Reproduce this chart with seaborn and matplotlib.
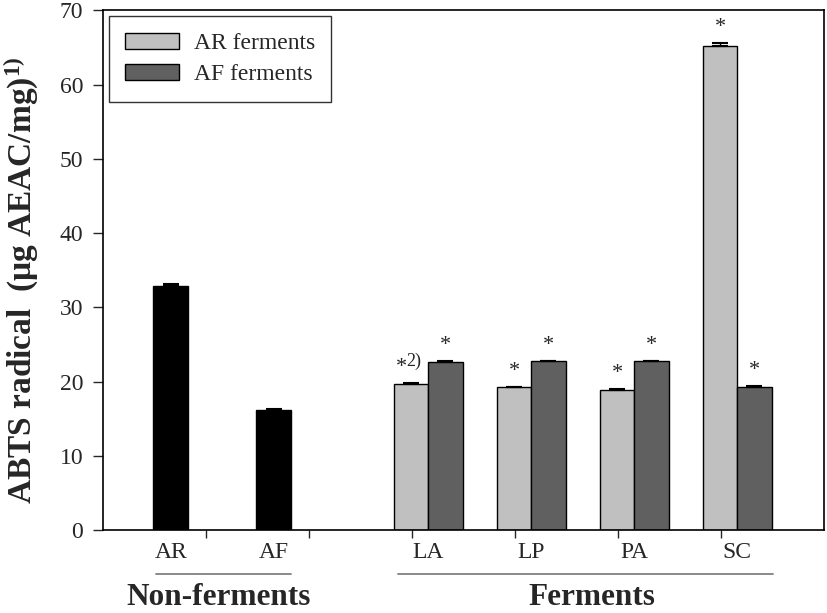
import matplotlib
matplotlib.use("Agg")
import matplotlib.pyplot as plt
import matplotlib.transforms as mtransforms
from matplotlib.patches import Patch
import seaborn as sns
import pandas as pd

# ---- data ----
groups = ["Non-ferments", "Ferments"]
non_labels = ["AR", "AF"]
non_values = [32.8, 16.1]
non_errors = [0.3, 0.25]
ferm_labels = ["LA", "LP", "PA", "SC"]
ar_values = [19.7, 19.2, 18.9, 65.2]
ar_errors = [0.1, 0.1, 0.1, 0.4]
af_values = [22.6, 22.7, 22.7, 19.3]
af_errors = [0.1, 0.1, 0.1, 0.1]
series = ["AR ferments", "AF ferments"]
ar_marks = ["*2)", "*", "*", "*"]
af_marks = ["*", "*", "*", "*"]
y_ticks = [0, 10, 20, 30, 40, 50, 60, 70]

# ---- layout (positions) ----
non_pos = [0.66, 1.66]
ferm_pos = [3.16, 4.16, 5.16, 6.16]
half = 0.167

rows = []
for p, v, e in zip(non_pos, non_values, non_errors):
    rows.append(dict(x=p, y=v, err=e, hue="Non"))
for p, v, e in zip(ferm_pos, ar_values, ar_errors):
    rows.append(dict(x=round(p - half, 3), y=v, err=e, hue=series[0]))
for p, v, e in zip(ferm_pos, af_values, af_errors):
    rows.append(dict(x=round(p + half, 3), y=v, err=e, hue=series[1]))
df = pd.DataFrame(rows)

sns.set_style("ticks")
plt.rcParams["font.family"] = ["Liberation Serif", "DejaVu Serif"]
plt.rcParams["mathtext.fontset"] = "custom"
plt.rcParams["mathtext.rm"] = "Liberation Serif"
plt.rcParams["mathtext.bf"] = "Liberation Serif:bold"
plt.rcParams["mathtext.default"] = "regular"

fig = plt.figure(figsize=(8.27, 6.13), dpi=100)
ax = fig.add_axes([0.1242, 0.1354, 0.8718, 0.8478])

palette = {"Non": "#000000", series[0]: "#c0c0c0", series[1]: "#606060"}
sns.barplot(data=df, x="x", y="y", hue="x", native_scale=True, dodge=False,
            palette={r.x: palette[r.hue] for r in df.itertuples()},
            width=1.0, edgecolor="black", linewidth=1.0, errorbar=None,
            legend=False, ax=ax, zorder=2)

ax.errorbar(df["x"], df["y"], yerr=[[0] * len(df), df["err"]], fmt="none",
            ecolor="black", elinewidth=1.0, capsize=5.5, capthick=1.5, zorder=3)

ax.set_xlim(0, 7)
ax.set_ylim(0, 70)
ax.set_yticks(y_ticks)
ax.set_xticks([1, 2, 3, 4, 5, 6])
ax.set_xticklabels([])
ax.set_xticks(non_pos + ferm_pos, minor=True)
ax.set_xticklabels(non_labels + ferm_labels, minor=True)
ax.tick_params(axis="x", which="minor", length=0, pad=9, labelsize=17)
ax.tick_params(axis="x", which="major", length=6, width=1, direction="out")
ax.tick_params(axis="y", length=7, width=1, direction="out", labelsize=17, pad=7)
for s in ax.spines.values():
    s.set_linewidth(1.2)
    s.set_color("black")
ax.set_xlabel("")
ax.set_ylabel(r"ABTS radical  (μg AEAC/mg)$^{1)}$", fontsize=24,
              fontweight="bold")
ax.yaxis.set_label_coords(-0.085, 0.48)

# significance marks
for p, v, e, m in zip(ferm_pos, ar_values, ar_errors, ar_marks):
    xx = p - half
    if m == "*2)":
        ax.text(xx - 0.09, v + e + 2.1, "*", ha="center", va="center", fontsize=16)
        ax.text(xx - 0.05, v + e + 2.9, "2)", ha="left", va="center", fontsize=13)
    else:
        ax.text(xx, v + e + 2.1, m, ha="center", va="center", fontsize=16)
for p, v, e, m in zip(ferm_pos, af_values, af_errors, af_marks):
    ax.text(p + half, v + e + 2.1, m, ha="center", va="center", fontsize=16)

# group lines and labels
trans = mtransforms.blended_transform_factory(ax.transData, ax.transAxes)
ax.plot([0.52, 1.825], [-0.085, -0.085], transform=trans, color="#808080",
        lw=1.3, clip_on=False)
ax.plot([2.87, 6.51], [-0.085, -0.085], transform=trans, color="#808080",
        lw=1.3, clip_on=False)
ax.text(1.12, -0.145, groups[0], transform=trans, ha="center", va="baseline",
        fontsize=22.5, fontweight="bold")
ax.text(4.75, -0.145, groups[1], transform=trans, ha="center", va="baseline",
        fontsize=22.5, fontweight="bold")

# legend
handles = [Patch(facecolor=palette[s], edgecolor="black", linewidth=1.0, label=s)
           for s in series]
leg = ax.legend(handles=handles, loc="upper left", fontsize=17, frameon=True,
                fancybox=False, edgecolor="black", borderaxespad=0.25,
                handlelength=2.3, handleheight=0.7, handletextpad=0.6,
                borderpad=0.7, labelspacing=0.4)
leg.get_frame().set_linewidth(1.0)

fig.savefig("out.png", dpi=100)
